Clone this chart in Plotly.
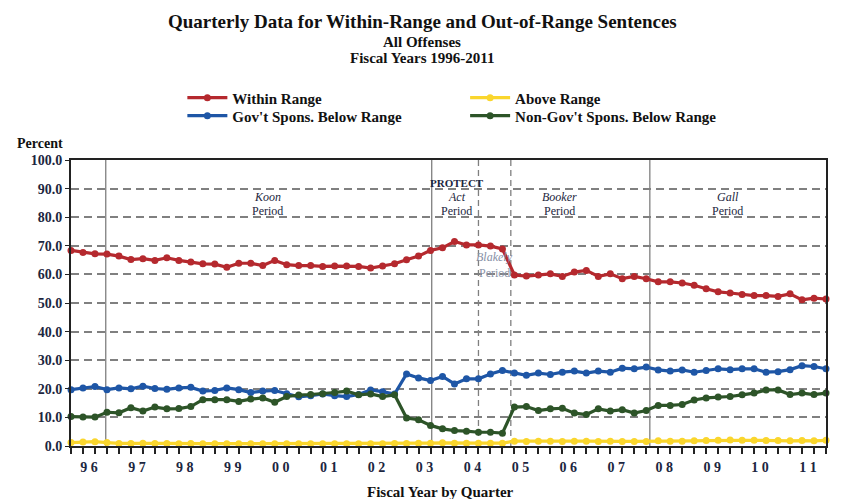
import plotly.graph_objects as go

# quarterly series, FY1996 Q1 .. FY2011 Q4 (64 quarters)
quarters = list(range(64))

within_range = [68.4, 67.7, 67.2, 67.1, 66.4, 65.2, 65.5, 64.9, 65.8, 64.9,
                64.3, 63.7, 63.6, 62.5, 63.9, 63.9, 63.1, 64.9, 63.4, 63.1,
                63.1, 62.8, 62.9, 62.9, 62.8, 62.2, 62.9, 63.7, 65.1, 66.4,
                68.4, 69.3, 71.5, 70.3, 70.3, 69.9, 68.9, 59.8, 59.4, 59.8,
                60.2, 59.3, 60.8, 61.4, 59.3, 60.2, 58.5, 59.3, 58.5, 57.4,
                57.4, 57.0, 56.2, 55.0, 53.9, 53.5, 53.0, 52.6, 52.6, 52.3,
                53.2, 51.1, 51.7, 51.4]

above_range = [1.2, 1.4, 1.5, 1.2, 0.9, 0.9, 1.0, 0.9, 0.9, 0.8,
               0.9, 0.8, 0.8, 0.8, 0.8, 0.8, 0.8, 0.8, 0.8, 0.8,
               0.8, 0.8, 0.8, 0.8, 0.8, 0.8, 0.8, 0.9, 0.9, 1.0,
               1.0, 1.1, 1.0, 1.0, 1.0, 1.0, 1.0, 1.7, 1.6, 1.7,
               1.7, 1.6, 1.7, 1.7, 1.6, 1.7, 1.6, 1.6, 1.6, 1.8,
               1.7, 1.7, 1.8, 1.9, 2.0, 2.1, 2.0, 2.0, 1.9, 1.9,
               1.8, 1.9, 1.8, 2.0]

govt_below = [19.7, 20.3, 20.8, 19.7, 20.3, 20.0, 20.9, 20.1, 19.8, 20.3,
              20.5, 19.2, 19.4, 20.3, 19.7, 18.7, 19.2, 19.4, 18.3, 17.2,
              17.6, 18.2, 17.6, 17.3, 18.0, 19.6, 19.0, 18.2, 25.2, 23.8,
              22.9, 24.3, 21.7, 23.5, 23.5, 25.2, 26.4, 25.5, 24.7, 25.5,
              25.0, 25.8, 26.2, 25.5, 26.2, 25.8, 27.2, 27.0, 27.6, 26.6,
              26.2, 26.6, 25.8, 26.4, 27.0, 26.7, 27.0, 27.0, 25.8, 26.0,
              26.7, 28.1, 27.8, 27.0]

nongovt_below = [10.3, 10.1, 10.1, 11.8, 11.6, 13.4, 12.2, 13.6, 13.0, 13.1,
                 13.8, 16.2, 16.2, 16.2, 15.6, 16.4, 16.8, 15.3, 17.3, 17.8,
                 18.0, 18.3, 18.7, 19.2, 17.9, 18.2, 17.3, 17.9, 9.8, 9.2,
                 7.2, 6.0, 5.4, 5.2, 4.8, 4.8, 4.5, 13.6, 13.8, 12.4,
                 13.0, 13.2, 11.5, 11.0, 13.0, 12.2, 12.7, 11.5, 12.4, 14.2,
                 14.2, 14.5, 16.1, 16.8, 17.1, 17.3, 17.9, 18.5, 19.6, 19.6,
                 18.0, 18.5, 18.0, 18.5]

year_labels = ['9 6', '9 7', '9 8', '9 9', '0 0', '0 1', '0 2', '0 3',
               '0 4', '0 5', '0 6', '0 7', '0 8', '0 9', '1 0', '1 1']
year_ticks = [1.5 + 4 * k for k in range(16)]

# decision lines (quarter position) and their style
events = [(2.9, 'solid'), (30.1, 'solid'), (48.3, 'solid'),
          (34.0, 'dash'), (36.7, 'dash')]

red = 'rgb(181, 41, 46)'
blue = 'rgb(30, 86, 166)'
yellow = 'rgb(250, 214, 45)'
green = 'rgb(45, 84, 40)'
navy = '#1c2640'
serif = 'Liberation Serif'

fig = go.Figure()


def add_series(y, name, color, legend):
    fig.add_trace(go.Scatter(x=quarters, y=y, name=name, mode='lines+markers',
                             line=dict(color=color, width=3.2),
                             marker=dict(color=color, size=7),
                             cliponaxis=False, legend=legend, showlegend=True))


# one legend box per entry so the 2x2 grid sits where it should
add_series(within_range, 'Within Range', red, 'legend')
add_series(above_range, 'Above Range', yellow, 'legend2')
add_series(govt_below, "Gov't Spons. Below Range", blue, 'legend3')
add_series(nongovt_below, "Non-Gov't Spons. Below Range", green, 'legend4')

for xpos, dash in events:
    fig.add_shape(type='line', x0=xpos, x1=xpos, y0=0, y1=100,
                  xref='x', yref='y', layer='below',
                  line=dict(color='#7f7f7f', width=1.3,
                            dash='solid' if dash == 'solid' else '6px,4px'))

notes = [
    (16.4, 87, '<i>Koon</i>', 12), (16.4, 82, 'Period', 12),
    (32.2, 91.8, '<b>PROTECT</b>', 11), (32.2, 87, '<i>Act</i>', 12),
    (32.2, 82, 'Period', 12),
    (40.8, 87, '<i>Booker</i>', 12), (40.8, 82, 'Period', 12),
    (54.8, 87, '<i>Gall</i>', 12), (54.8, 82, 'Period', 12),
]
for xn, yn, txt, sz in notes:
    fig.add_annotation(x=xn, y=yn, text=txt, showarrow=False,
                       font=dict(family=serif, size=sz, color=navy))
fig.add_annotation(x=35.3, y=66, text='<i>Blakely</i>', showarrow=False,
                   font=dict(family=serif, size=12, color='#8790a6'))
fig.add_annotation(x=35.3, y=60.4, text='Period', showarrow=False,
                   font=dict(family=serif, size=12, color='#8790a6'))

# titles
heads = [(1.486, 'Quarterly Data for Within-Range and Out-of-Range Sentences', 19),
         (1.413, 'All Offenses', 15), (1.357, 'Fiscal Years 1996-2011', 15)]
for yp, txt, sz in heads:
    fig.add_annotation(x=0.465, y=yp, xref='paper', yref='paper', text='<b>%s</b>' % txt,
                       xanchor='center', yanchor='middle', showarrow=False,
                       font=dict(family=serif, size=sz, color='#111'))
fig.add_annotation(x=-0.074, y=1.059, xref='paper', yref='paper', xanchor='left',
                   yanchor='middle', text='<b>Percent</b>', showarrow=False,
                   font=dict(family=serif, size=14, color='#111'))
fig.add_annotation(x=0.489, y=-0.161, xref='paper', yref='paper',
                   xanchor='center', yanchor='middle',
                   text='<b>Fiscal Year by Quarter</b>', showarrow=False,
                   font=dict(family=serif, size=15, color='#111'))

legend_font = dict(family=serif, size=15, color='#111', weight='bold')


def legend_box(xp, yp):
    return dict(x=xp, y=yp, xanchor='left', yanchor='middle', font=legend_font,
                bgcolor='rgba(0,0,0,0)', itemwidth=40, visible=True)


# the page body has an 8px margin, so the figure is drawn 8px smaller
fig.update_layout(
    width=833, height=491,
    margin=dict(l=63, r=15, t=152, b=53),
    plot_bgcolor='white', paper_bgcolor='white',
    showlegend=True,
    font=dict(family=serif, color=navy),
    legend=legend_box(0.1475, 1.217),
    legend2=legend_box(0.522, 1.217),
    legend3=legend_box(0.1475, 1.154),
    legend4=legend_box(0.522, 1.154),
    xaxis=dict(range=[0, 63], tickvals=year_ticks, ticktext=year_labels,
               ticks='', showgrid=False, zeroline=False, ticklabelstandoff=7,
               tickfont=dict(family=serif, size=14, color=navy, weight='bold'),
               showline=True, linecolor='#222', linewidth=2, mirror=True,
               minor=dict(tick0=0, dtick=1, ticks='outside', ticklen=6,
                          tickcolor='#222', tickwidth=1.5, showgrid=False)),
    yaxis=dict(range=[0, 100], dtick=10, tickformat='.1f',
               showgrid=True, gridcolor='#808080', gridwidth=2.2,
               griddash='8px,5px', zeroline=False,
               ticks='outside', ticklen=4, tickcolor='#222',
               tickfont=dict(family=serif, size=14, color=navy, weight='bold'),
               showline=True, linecolor='#222', linewidth=2, mirror=True),
)

fig.write_html('out.html')
